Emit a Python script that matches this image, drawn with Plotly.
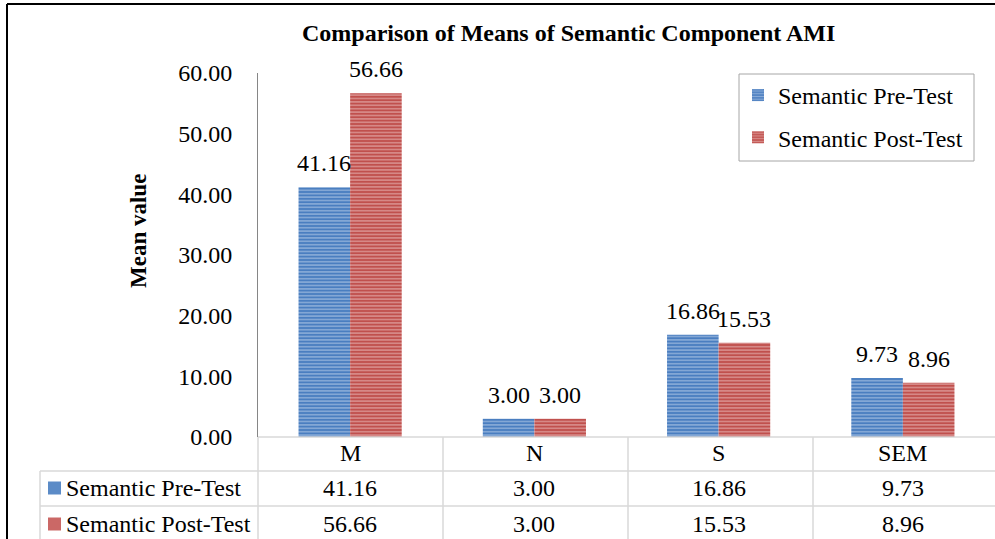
import plotly.graph_objects as go

categories = ["M", "N", "S", "SEM"]
series_names = ["Semantic Pre-Test", "Semantic Post-Test"]
pre_values = [41.16, 3.00, 16.86, 9.73]
post_values = [56.66, 3.00, 15.53, 8.96]
y_ticks = [0, 10, 20, 30, 40, 50, 60]
title_text = "Comparison of Means of Semantic Component AMI"
y_title = "Mean value"

W, H = 995, 539
FONT = "Liberation Serif"
FS = 24
BLUE, BLUE_L = "#4A7EC0", "#C9DAF0"
RED, RED_L = "#C0504D", "#F2CDCC"
GRID = "#D9D9D9"
BAR_FRAC = 0.28  # width of one bar in category units
CAT_PX = (W - 258) / 4


def px(x):
    return x / W


def py(y):
    return 1 - y / H


fig = go.Figure()
series = [(series_names[0], pre_values, BLUE, BLUE_L, -1),
          (series_names[1], post_values, RED, RED_L, 1)]
annotations = []
for i, (name, vals, col, lcol, side) in enumerate(series):
    fig.add_trace(go.Bar(
        x=categories, y=vals, name=name,
        marker=dict(color=col, line=dict(width=0),
                    pattern=dict(shape="-", fgcolor=lcol, fillmode="overlay",
                                 size=3.4, solidity=0.45)),
        legendgroup=f"g{i}",
    ))
    for c, v in zip(categories, vals):
        annotations.append(dict(text=f"{v:.2f}", x=c, y=v, xref="x", yref="y",
                                xshift=side * BAR_FRAC * CAT_PX / 2, yshift=24,
                                showarrow=False, xanchor="center", yanchor="middle",
                                font=dict(family=FONT, size=FS, color="black")))

shapes = []
shapes.append(dict(type="line", xref="paper", yref="paper", x0=px(7), x1=px(996),
                   y0=py(4), y1=py(4), line=dict(color="black", width=2)))
shapes.append(dict(type="line", xref="paper", yref="paper", x0=px(7), x1=px(7),
                   y0=py(4), y1=py(540), line=dict(color="black", width=2)))
for yy, x0 in [(437, 258), (471, 40), (506, 40)]:
    shapes.append(dict(type="line", xref="paper", yref="paper", x0=px(x0), x1=1,
                       y0=py(yy), y1=py(yy), line=dict(color=GRID, width=1.5)))
shapes.append(dict(type="line", xref="paper", yref="paper", x0=px(40), x1=px(40),
                   y0=py(471), y1=py(540), line=dict(color=GRID, width=1.5)))
for xx in [258, 443, 628, 813]:
    shapes.append(dict(type="line", xref="paper", yref="paper", x0=px(xx), x1=px(xx),
                       y0=py(437), y1=py(540), line=dict(color=GRID, width=1.5)))
shapes.append(dict(type="rect", xref="paper", yref="paper", x0=px(739), x1=px(974),
                   y0=py(74), y1=py(161), line=dict(color="#A6A6A6", width=1),
                   fillcolor="rgba(0,0,0,0)"))
for yy, col in [(488, "#5B8BC7"), (524, "#CB6866")]:
    shapes.append(dict(type="rect", xref="paper", yref="paper", x0=px(48), x1=px(61),
                       y0=py(yy - 6.5), y1=py(yy + 6.5), line=dict(width=0),
                       fillcolor=col))

annotations.append(dict(text=f"<b>{title_text}</b>", x=px(568), y=py(33), xref="paper",
                        yref="paper", showarrow=False, xanchor="center", yanchor="middle",
                        font=dict(family=FONT, size=FS, color="black")))
annotations.append(dict(text=f"<b>{y_title}</b>", x=px(138), y=py(231), xref="paper",
                        yref="paper", showarrow=False, textangle=-90,
                        xanchor="center", yanchor="middle",
                        font=dict(family=FONT, size=FS - 1, color="black")))
for name, vals, yy in [(series_names[0], pre_values, 488), (series_names[1], post_values, 524)]:
    annotations.append(dict(text=name, x=px(64), y=py(yy), xref="paper", yref="paper",
                            xanchor="left", yanchor="middle", showarrow=False,
                            font=dict(family=FONT, size=FS, color="black")))
    for c, v in zip(categories, vals):
        annotations.append(dict(text=f"{v:.2f}", x=c, y=py(yy), xref="x", yref="paper",
                                showarrow=False, xanchor="center", yanchor="middle",
                                font=dict(family=FONT, size=FS, color="black")))
for c in categories:
    annotations.append(dict(text=c, x=c, y=py(453), xref="x", yref="paper",
                            showarrow=False, xanchor="center", yanchor="middle",
                            font=dict(family=FONT, size=FS, color="black")))

fig.update_layout(
    width=W, height=H, margin=dict(l=0, r=0, t=0, b=0, pad=0, autoexpand=False),
    paper_bgcolor="white", plot_bgcolor="white",
    barmode="group", bargap=1 - 2 * BAR_FRAC, bargroupgap=0,
    showlegend=True,
    legend=dict(x=px(738), y=py(73), xanchor="left", yanchor="top",
                bgcolor="rgba(0,0,0,0)", borderwidth=0,
                traceorder="grouped", tracegroupgap=8,
                font=dict(family=FONT, size=FS, color="black")),
    xaxis=dict(domain=[px(258), 1], range=[-0.5, 3.5], showticklabels=False,
               showline=False, showgrid=False, zeroline=False, fixedrange=True),
    yaxis=dict(domain=[py(437), py(73)], range=[0, 60], tickvals=y_ticks,
               tickformat=".2f", showline=True, linecolor="#868686", linewidth=1,
               showgrid=False, zeroline=False, ticks="", ticklabelstandoff=20,
               tickfont=dict(family=FONT, size=FS, color="black")),
    shapes=shapes, annotations=annotations,
)

post = """
document.documentElement.style.margin='0';
document.body.style.margin='0';
document.body.style.overflow='hidden';
"""

fig.write_html("out.html", config={"displayModeBar": False}, post_script=post)
